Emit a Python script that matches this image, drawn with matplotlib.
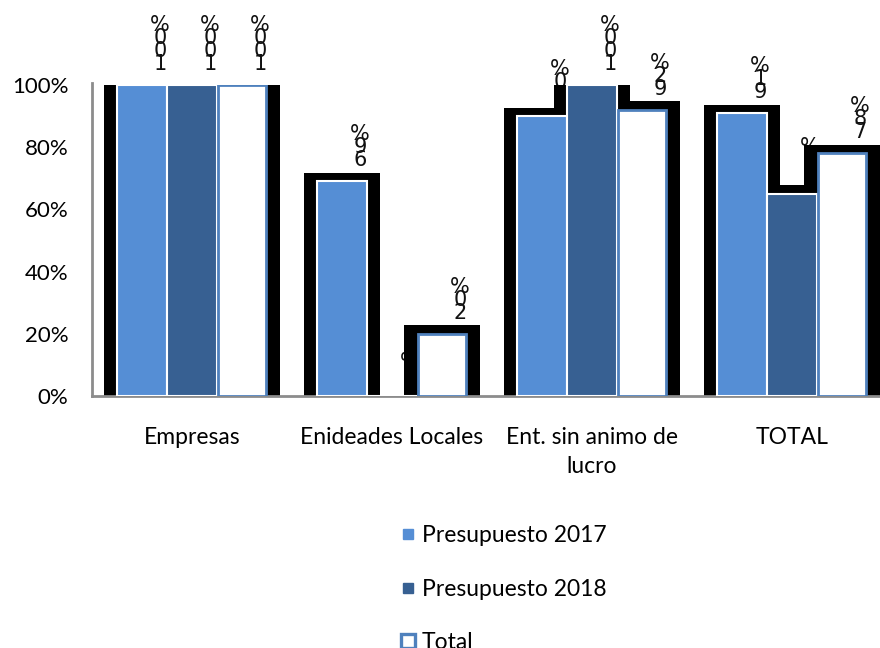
import matplotlib
matplotlib.use("Agg")
import matplotlib.pyplot as plt
from matplotlib.lines import Line2D
import numpy as np

categories = ["Empresas", "Enideades Locales", "Ent. sin animo de\nlucro", "TOTAL"]
series_names = ["Presupuesto 2017", "Presupuesto 2018", "Total"]
pres_2017 = [1.00, 0.69, 0.90, 0.91]
pres_2018 = [1.00, 0.00, 1.00, 0.65]
total = [1.00, 0.20, 0.92, 0.78]
yticks = [0, 0.2, 0.4, 0.6, 0.8, 1.0]
ytick_labels = ["0%", "20%", "40%", "60%", "80%", "100%"]

plt.rcParams['font.family'] = ['Lato', 'DejaVu Sans']

fig = plt.figure(figsize=(8.8, 6.48), dpi=100)
ax = fig.add_axes([92/880, 1 - 396/648, 800/880, (396 - 85)/648])

x = np.arange(len(categories))
w = 0.25
offsets = [-0.25, 0.0, 0.25]
light = "#558ED5"
dark = "#376092"
edge_blue = "#4F81BD"

all_series = [pres_2017, pres_2018, total]
padx = 0.065
pady = 0.027

# black shadows
for off, vals in zip(offsets, all_series):
    for xi, v in zip(x, vals):
        if v > 0:
            ax.bar(xi + off, v + pady, width=w + 2 * padx, color="black",
                   zorder=2, linewidth=0)

ax.bar(x - 0.25, pres_2017, width=w, color=light, edgecolor="white",
       linewidth=1.5, zorder=3)
ax.bar(x, pres_2018, width=w, color=dark, edgecolor="white",
       linewidth=1.5, zorder=3)
ax.bar(x + 0.25, total, width=w * 0.97, color="white", edgecolor=edge_blue,
       linewidth=2.0, zorder=3)

# stacked data labels
for off, vals in zip(offsets, all_series):
    for xi, v in zip(x, vals):
        s = f"{round(v * 100):d}%"
        txt = "\n".join(reversed(s))
        ax.annotate(txt, xy=(xi + off, v), xytext=(13, 8),
                    textcoords="offset points", ha="center", va="bottom",
                    fontsize=15, linespacing=0.56, zorder=1,
                    family=['DejaVu Sans'], color="#111111")

ax.set_xlim(-0.5, 3.5)
ax.set_ylim(0, 1.0)
ax.set_yticks(yticks)
ax.set_yticklabels(ytick_labels, fontsize=16)
ax.set_xticks(x)
ax.set_xticklabels(categories, fontsize=16.5, linespacing=1.5, va="top")
ax.tick_params(axis="x", length=0, pad=22)
ax.tick_params(axis="y", length=0, pad=17)

for side in ["top", "right"]:
    ax.spines[side].set_visible(False)
for side in ["left", "bottom"]:
    ax.spines[side].set_color("#8C8C8C")
    ax.spines[side].set_linewidth(2)
ax.spines["left"].set_bounds(0, 1.007)

handles = [
    Line2D([], [], linestyle="none", marker="s", markersize=7,
           markerfacecolor=light, markeredgecolor=light),
    Line2D([], [], linestyle="none", marker="s", markersize=7,
           markerfacecolor=dark, markeredgecolor=dark),
    Line2D([], [], linestyle="none", marker="s", markersize=9.5,
           markerfacecolor="white", markeredgecolor=edge_blue, markeredgewidth=2.4),
]
fig.legend(handles, series_names, loc="upper left",
           bbox_to_anchor=(390/880, 1 - 514/648), frameon=False,
           fontsize=16.5, labelspacing=1.4, handlelength=0.55,
           handletextpad=0.35, borderpad=0)

fig.savefig("out.png", dpi=100)
